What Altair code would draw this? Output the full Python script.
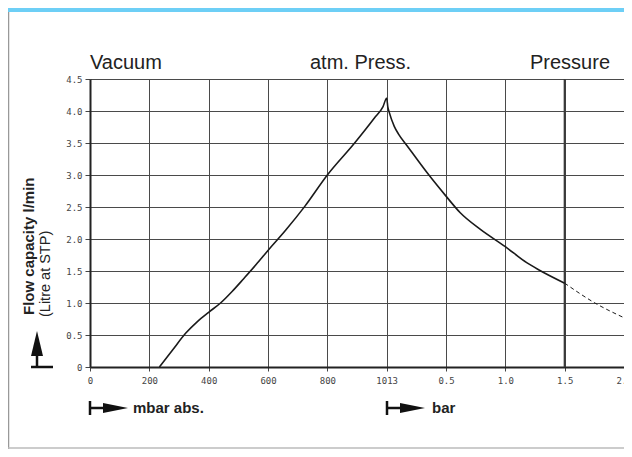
import altair as alt
import pandas as pd

# ---- data ----
vac_mbar = [234, 279, 323, 362, 400, 440, 479, 518, 560, 600, 660, 724, 800, 898, 969, 1000, 1013]
vac_flow = [0.0, 0.27, 0.53, 0.71, 0.855, 1.00, 1.18, 1.38, 1.60, 1.82, 2.14, 2.51, 3.00, 3.50, 3.89, 4.07, 4.20]

pres_bar = [0.0, 0.01, 0.02, 0.064, 0.1, 0.175, 0.343, 0.5, 0.62, 0.79, 1.0, 1.18, 1.28, 1.5]
pres_flow = [4.20, 4.06, 3.99, 3.76, 3.64, 3.45, 3.03, 2.67, 2.41, 2.15, 1.88, 1.63, 1.52, 1.31]

ext_bar = [1.5, 1.755, 2.0]
ext_flow = [1.31, 1.00, 0.77]

x_tick_labels = ["0", "200", "400", "600", "800", "1013", "0.5", "1.0", "1.5", "2.0"]
y_tick_values = [0, 0.5, 1.0, 1.5, 2.0, 2.5, 3.0, 3.5, 4.0, 4.5]
limit_bar = [1.5]


def mbar_to_pos(m):
    return m / 200 if m <= 800 else 4 + (m - 800) / 213


def bar_to_pos(b):
    return 5 + b / 0.5


solid = pd.DataFrame({
    "pos": [mbar_to_pos(m) for m in vac_mbar] + [bar_to_pos(b) for b in pres_bar],
    "flow": vac_flow + pres_flow,
})
solid["order"] = range(len(solid))
dashed = pd.DataFrame({"pos": [bar_to_pos(b) for b in ext_bar], "flow": ext_flow})
dashed["order"] = range(len(dashed))
limit = pd.DataFrame({"pos": [bar_to_pos(b) for b in limit_bar]})

one = pd.DataFrame({"k": [0]})

label_expr = "[" + ",".join("'%s'" % s for s in x_tick_labels) + "][datum.value]"

xscale = alt.Scale(domain=[0, 9], nice=False, zero=False)
yscale = alt.Scale(domain=[0, 4.5], nice=False)

common_axis = dict(
    grid=True, gridColor="#4a4a4a", gridWidth=1,
    domainColor="#222", domainWidth=2,
    tickColor="#444", labelFont="DejaVu Sans Mono", labelFontSize=9,
    labelColor="#444", title=None, labelOverlap=False,
)
xaxis = alt.Axis(values=list(range(10)), labelExpr=label_expr, tickSize=4,
                 labelPadding=5, labelFlush=False, **common_axis)
yaxis = alt.Axis(values=y_tick_values,
                 labelExpr="datum.value == 0 ? '0' : format(datum.value, '.1f')",
                 tickSize=5, labelPadding=3, **common_axis)

X = alt.X("pos:Q", scale=xscale, axis=xaxis)
Y = alt.Y("flow:Q", scale=yscale, axis=yaxis)

line_solid = alt.Chart(solid).mark_line(color="#1a1a1a", strokeWidth=1.6, interpolate="monotone").encode(
    x=X, y=Y, order="order:Q",
)
line_dash = alt.Chart(dashed).mark_line(color="#1a1a1a", strokeWidth=1, strokeDash=[4, 3],
                                        interpolate="monotone").encode(
    x=X, y=Y, order="order:Q",
)
rule15 = alt.Chart(limit).mark_rule(color="#3a3a3a", strokeWidth=2).encode(
    x=X, y=alt.value(0), y2=alt.value(288)
)

TXT = "#222"


def text(s, x, y, **kw):
    return alt.Chart(one).mark_text(color=TXT, font="Liberation Sans", **kw).encode(
        x=alt.value(x), y=alt.value(y), text=alt.value(s)
    )


def rule(x, y, x2=None, y2=None, color="#111", w=2.5):
    enc = dict(x=alt.value(x), y=alt.value(y))
    if x2 is not None:
        enc["x2"] = alt.value(x2)
    if y2 is not None:
        enc["y2"] = alt.value(y2)
    return alt.Chart(one).mark_rule(color=color, strokeWidth=w).encode(**enc)


def arrow(x, y, shape):
    return alt.Chart(one).mark_point(shape=shape, filled=True, color="#111", size=625, opacity=1).encode(
        x=alt.value(x), y=alt.value(y)
    )


up = "M0,-1L0.48,1L-0.48,1Z"
right = "M1,0L-1,0.4L-1,-0.4Z"

layers = [
    # frame
    alt.Chart(one).mark_rect(color="#6dcff6").encode(
        x=alt.value(-82), x2=alt.value(534), y=alt.value(-71), y2=alt.value(-67)),
    rule(-81.5, -67, y2=370, color="#999", w=1.5),
    rule(-82, 369, x2=534, color="#bbb", w=1.5),
    rule15,
    line_solid,
    line_dash,
    # titles
    text("Vacuum", 0, -10, fontSize=20, align="left", baseline="alphabetic"),
    text("atm. Press.", 220, -10, fontSize=20, align="left", baseline="alphabetic"),
    text("Pressure", 520, -10, fontSize=20, align="right", baseline="alphabetic"),
    # y title
    text("Flow capacity l/min", -56, 236, fontSize=15, fontWeight="bold", angle=270,
         align="left", baseline="alphabetic"),
    text("(Litre at STP)", -40, 238, fontSize=14.5, angle=270, align="left", baseline="alphabetic"),
    # y arrow
    arrow(-53, 264.5, up),
    rule(-53, 275, y2=288),
    rule(-59, 288, x2=-37),
    # x arrows
    rule(0, 322, y2=336),
    rule(0, 329, x2=20),
    arrow(25.5, 329, right),
    text("mbar abs.", 43, 329, fontSize=15, fontWeight="bold", align="left", baseline="middle"),
    rule(297, 322, y2=336),
    rule(297, 329, x2=317),
    arrow(322.5, 329, right),
    text("bar", 342, 329, fontSize=15, fontWeight="bold", align="left", baseline="middle"),
]

chart = alt.layer(*layers).properties(
    width=534,
    height=288,
    autosize=alt.AutoSizeParams(type="none"),
    padding={"left": 82, "top": 71, "right": 0, "bottom": 82},
    background="white",
).configure_view(strokeWidth=0)

chart.save("out.html", embed_options={"renderer": "svg", "actions": False})
